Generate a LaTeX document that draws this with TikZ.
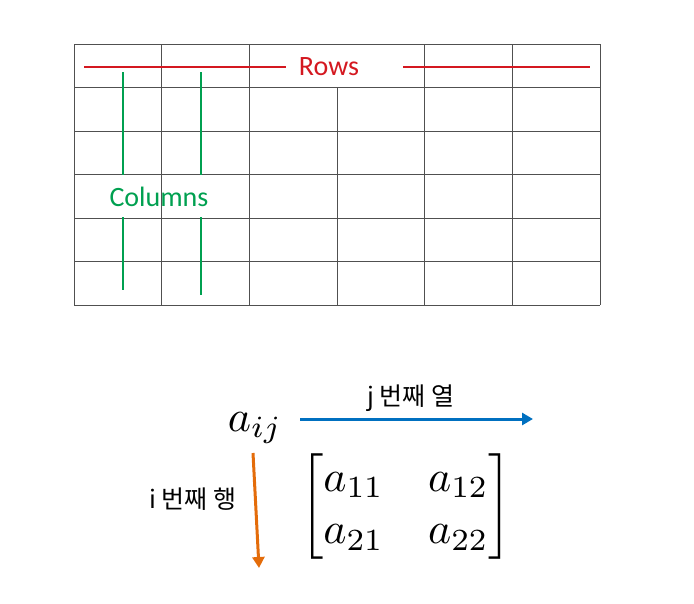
\documentclass[tikz,border=0pt]{standalone}
\usepackage{fontspec}
\usepackage{amsmath}
\usepackage{tikz}
\usetikzlibrary{arrows.meta}
\setmainfont{Carlito}
\newfontfamily\cjk{Noto Sans CJK KR}
\definecolor{gridgray}{RGB}{80,80,80}
\definecolor{rowred}{RGB}{212,24,32}
\definecolor{colgreen}{RGB}{0,160,80}
\definecolor{jblue}{RGB}{0,112,192}
\definecolor{iorange}{RGB}{228,108,10}

\begin{document}
\begin{tikzpicture}[x=1pt,y=1pt,
    mathtxt/.style={inner sep=0pt,scale=4.4},
    hangul/.style={inner sep=0pt,font=\cjk\fontsize{25}{30}\selectfont}]
  \useasboundingbox (0,0) rectangle (694,-603);
  % table
  \begin{scope}[gridgray,line width=1pt]
    \foreach \r in {0,...,6}
      \draw (74,-44-43.5*\r) -- (600,-44-43.5*\r);
    \foreach \c in {0,1,2,4,5,6}
      \draw (74+87.67*\c,-44) -- (74+87.67*\c,-305);
    \draw (337,-87.5) -- (337,-305);
  \end{scope}
  \node[rowred,inner sep=0pt,font=\fontsize{28}{33}\selectfont] (rows) at (329,-67) {Rows};
  \draw[rowred,line width=1.2pt] (84,-67) -- (286,-67);
  \draw[rowred,line width=1.2pt] (403,-67) -- (590,-67);
  \node[colgreen,inner sep=0pt,font=\fontsize{28}{33}\selectfont] (cols) at (159,-197) {Columns};
  \begin{scope}[colgreen,line width=1.2pt]
    \draw (123,-72) -- (123,-175);
    \draw (201,-72) -- (201,-175);
    \draw (123,-217) -- (123,-290);
    \draw (201,-217) -- (201,-295);
  \end{scope}
  % element and matrix
  \node[mathtxt] (aij) at (255,-428) {$a_{ij}$};
  \node[mathtxt] (mat) at (406,-507) {$\begin{bmatrix} a_{11} & a_{12}\\ a_{21} & a_{22}\end{bmatrix}$};
  \coordinate (jstart) at (300,-419);
  \coordinate (jend) at (533,-419);
  \coordinate (istart) at (253,-453);
  \coordinate (iend) at (259,-568);
  \draw[jblue,line width=3pt,-{Triangle[length=11pt,width=12pt]}] (jstart) -- (jend);
  \draw[iorange,line width=3pt,-{Triangle[length=11pt,width=12pt]}] (istart) -- (iend);
  \node[hangul] (jlab) at (411,-398) {j 번째 열};
  \node[hangul] (ilab) at (193,-499) {i 번째 행};
\end{tikzpicture}
\end{document}
